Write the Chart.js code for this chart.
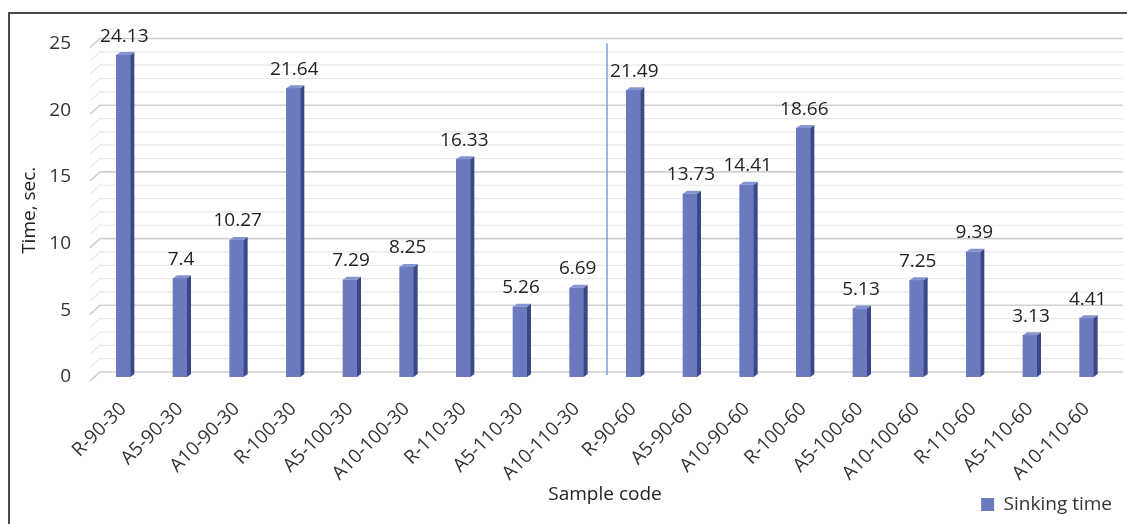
<!DOCTYPE html>
<html><head><meta charset="utf-8">
<script src="https://cdn.jsdelivr.net/npm/chart.js@4.4.1/dist/chart.umd.min.js"></script>
<style>html,body{margin:0;padding:0;background:#fff}#wrap{width:1127px;height:524px;position:relative}</style>
</head><body><div id="wrap"><canvas id="c" width="1127" height="524"></canvas></div>
<script>
const categories = ['R-90-30','A5-90-30','A10-90-30','R-100-30','A5-100-30','A10-100-30','R-110-30','A5-110-30','A10-110-30','R-90-60','A5-90-60','A10-90-60','R-100-60','A5-100-60','A10-100-60','R-110-60','A5-110-60','A10-110-60'];
const sinkingTime = [24.13,7.4,10.27,21.64,7.29,8.25,16.33,5.26,6.69,21.49,13.73,14.41,18.66,5.13,7.25,9.39,3.13,4.41];
const yTicks = [0,5,10,15,20,25];
const seriesName = 'Sinking time';
const groupSplitAfter = 8; // index of last "-30" sample

const FONT = '"Open Sans", sans-serif';
const FS = 19;
const FRONT = '#6b79be', SIDE = '#3b4887', TOP = '#8593d1';

const framePlugin = {
  id: 'frame',
  beforeDraw(chart) {
    const ctx = chart.ctx;
    ctx.save();
    ctx.fillStyle = '#fff';
    ctx.fillRect(0, 0, chart.width, chart.height);
    ctx.strokeStyle = '#4a4a4a';
    ctx.lineWidth = 2;
    ctx.beginPath();
    ctx.moveTo(9, chart.height);
    ctx.lineTo(9, 13);
    ctx.lineTo(chart.width, 13);
    ctx.stroke();
    ctx.restore();
  }
};

const gridPlugin = {
  id: 'grid3d',
  beforeDatasetsDraw(chart) {
    const ctx = chart.ctx, y = chart.scales.y, a = chart.chartArea;
    ctx.save();
    for (let v = 0; v <= 25; v++) {
      const py = y.getPixelForValue(v) - 5;
      const major = v % 5 === 0;
      ctx.strokeStyle = major ? '#cfcfcf' : '#e8e8e8';
      ctx.lineWidth = major ? 1.6 : 1.2;
      ctx.beginPath();
      ctx.moveTo(a.left - 5, py + 9);
      ctx.lineTo(a.left + 5, py);
      ctx.lineTo(a.right + 8, py);
      ctx.stroke();
    }
    const x = chart.scales.x;
    const sx = (x.getPixelForValue(groupSplitAfter) + x.getPixelForValue(groupSplitAfter + 1)) / 2 + 2;
    ctx.strokeStyle = '#7d9ee0';
    ctx.lineWidth = 1.5;
    ctx.beginPath();
    ctx.moveTo(sx, y.getPixelForValue(25));
    ctx.lineTo(sx, y.getPixelForValue(0) - 2);
    ctx.stroke();
    ctx.restore();
  }
};

const barPlugin = {
  id: 'bar3d',
  afterDatasetsDraw(chart) {
    const ctx = chart.ctx;
    const meta = chart.getDatasetMeta(0);
    const data = chart.data.datasets[0].data;
    ctx.save();
    meta.data.forEach((bar, i) => {
      const l = bar.x - bar.width / 2, r = bar.x + bar.width / 2;
      const t = bar.y, b = bar.base;
      const dx = 4, dy = 3;
      ctx.fillStyle = SIDE;
      ctx.beginPath();
      ctx.moveTo(r, t); ctx.lineTo(r + dx, t - dy); ctx.lineTo(r + dx, b - dy); ctx.lineTo(r, b); ctx.closePath();
      ctx.fill();
      ctx.fillStyle = TOP;
      ctx.beginPath();
      ctx.moveTo(l, t); ctx.lineTo(l + dx, t - dy); ctx.lineTo(r + dx, t - dy); ctx.lineTo(r, t); ctx.closePath();
      ctx.fill();
      ctx.fillStyle = '#222';
      ctx.font = FS + 'px ' + FONT;
      ctx.textAlign = 'center';
      ctx.textBaseline = 'alphabetic';
      ctx.fillText(String(data[i]), bar.x + 1, t - 13.5);
    });
    ctx.restore();
  }
};

new Chart(document.getElementById('c'), {
  type: 'bar',
  data: {
    labels: categories,
    datasets: [{
      label: seriesName,
      data: sinkingTime,
      backgroundColor: FRONT,
      borderWidth: 0,
      barThickness: 14
    }]
  },
  options: {
    responsive: false,
    devicePixelRatio: 1,
    animation: false,
    layout: { padding: { left: 18, right: 12, top: 43.5, bottom: 0 } },
    plugins: {
      tooltip: { enabled: false },
      legend: {
        position: 'bottom',
        align: 'end',
        labels: {
          boxWidth: 13, boxHeight: 13, padding: 3,
          color: '#333', font: { family: FONT, size: FS }
        }
      }
    },
    scales: {
      x: {
        grid: { display: false },
        border: { display: false },
        ticks: {
          color: '#333', font: { family: FONT, size: FS },
          maxRotation: 45, minRotation: 45, autoSkip: false, padding: 13
        },
        title: {
          display: true, text: 'Sample code', color: '#222',
          font: { family: FONT, size: FS }, padding: { top: 0, bottom: -14 }
        },
        afterFit(s) {
          const lh = (s.chart.legend && s.chart.legend.height) || 30;
          s.height = 524 - 377 - lh;
        }
      },
      y: {
        min: 0, max: 25,
        grid: { display: false },
        border: { display: false },
        afterBuildTicks(s) { s.ticks = yTicks.map(v => ({ value: v })); },
        ticks: { color: '#333', font: { family: FONT, size: FS }, padding: 16 },
        title: {
          display: true, text: 'Time, sec.', color: '#222',
          font: { family: FONT, size: FS }, padding: { top: 0, bottom: 0 }
        },
        afterFit(s) { s.width = 77; }
      }
    }
  },
  plugins: [framePlugin, gridPlugin, barPlugin]
});
</script></body></html>
